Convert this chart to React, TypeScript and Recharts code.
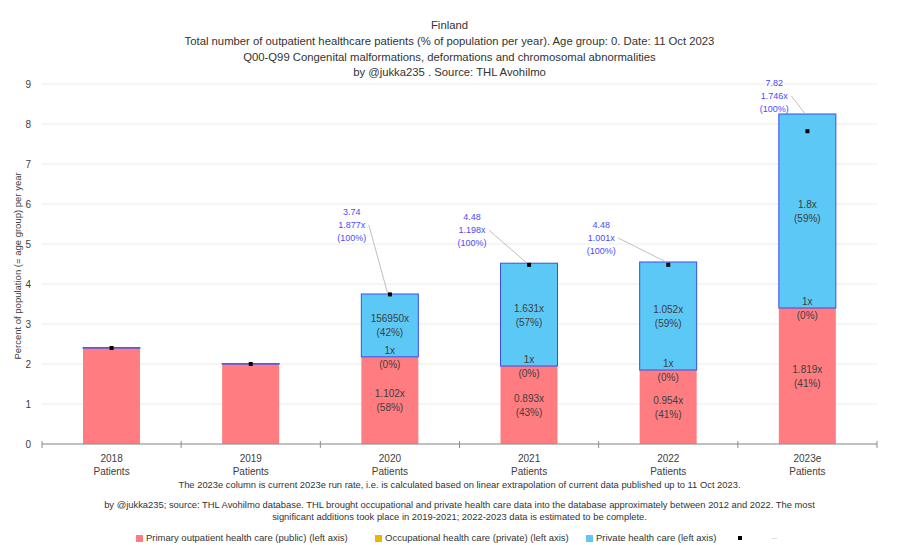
import React from "react";
import { ComposedChart, Bar, Line, XAxis, YAxis, CartesianGrid } from "recharts";

const categories = ["2018", "2019", "2020", "2021", "2022", "2023e"];
const publicCare = [2.4, 2.0, 2.18, 1.95, 1.85, 3.4];
const occupationalCare = [0, 0, 0, 0, 0, 0];
const privateCare = [0.01, 0.01, 1.57, 2.57, 2.7, 4.85];
const totals = [2.4, 2.0, 3.74, 4.48, 4.48, 7.82];

const publicRatio = ["", "", "1.102x", "0.893x", "0.954x", "1.819x"];
const publicShare = ["", "", "(58%)", "(43%)", "(41%)", "(41%)"];
const occRatio = ["", "", "1x", "1x", "1x", "1x"];
const occShare = ["", "", "(0%)", "(0%)", "(0%)", "(0%)"];
const privateRatio = ["", "", "156950x", "1.631x", "1.052x", "1.8x"];
const privateShare = ["", "", "(42%)", "(57%)", "(59%)", "(59%)"];
const totalLabel = ["", "", "3.74", "4.48", "4.48", "7.82"];
const totalRatio = ["", "", "1.877x", "1.198x", "1.001x", "1.746x"];
const yTicks = [0, 1, 2, 3, 4, 5, 6, 7, 8, 9];

// callout text offset from bar top centre (dx, dy of first line)
const calloutOffset: Record<string, [number, number]> = {
  "2020": [-38, -82],
  "2021": [-57, -46],
  "2022": [-67, -37],
  "2023e": [-33, -31],
};

const FONT = "'Liberation Sans', Arial, sans-serif";
const TEXT = "#404040";

const rows = categories.map((c, i) => ({
  name: c,
  publicCare: publicCare[i],
  occupationalCare: occupationalCare[i],
  privateCare: privateCare[i],
  total: totals[i],
  publicRatio: publicRatio[i],
  publicShare: publicShare[i],
  occRatio: occRatio[i],
  occShare: occShare[i],
  privateRatio: privateRatio[i],
  privateShare: privateShare[i],
  totalLabel: totalLabel[i],
  totalRatio: totalRatio[i],
}));

function PublicShape(props: any) {
  const { x, y, width, height, payload } = props;
  const cx = x + width / 2;
  const cy = y + height / 2;
  return (
    <g>
      <rect x={x} y={y} width={width} height={height} fill="#ff7c80" />
      {payload.publicRatio && (
        <text x={cx} y={cy} textAnchor="middle" fontSize={10} fill={TEXT} fontFamily={FONT}>
          <tspan x={cx} dy={-3}>{payload.publicRatio}</tspan>
          <tspan x={cx} dy={14}>{payload.publicShare}</tspan>
        </text>
      )}
    </g>
  );
}

function PrivateShape(props: any) {
  const { x, y, width, height, payload } = props;
  const cx = x + width / 2;
  const cy = y + height / 2;
  const bottom = y + height;
  const off = calloutOffset[payload.name];
  return (
    <g>
      <rect x={x} y={y} width={width} height={Math.max(height, 0.5)} fill="#5bc8f5" stroke="#3b4cf0" strokeWidth={1} />
      {payload.privateRatio && (
        <text x={cx} y={cy} textAnchor="middle" fontSize={10} fill={TEXT} fontFamily={FONT}>
          <tspan x={cx} dy={-3}>{payload.privateRatio}</tspan>
          <tspan x={cx} dy={14}>{payload.privateShare}</tspan>
        </text>
      )}
      {payload.occRatio && (
        <text x={cx} y={bottom} textAnchor="middle" fontSize={10} fill={TEXT} fontFamily={FONT}>
          <tspan x={cx} dy={-3}>{payload.occRatio}</tspan>
          <tspan x={cx} dy={14}>{payload.occShare}</tspan>
        </text>
      )}
      {off && (
        <g>
          <line x1={cx + off[0] + 17} y1={y + off[1] + 13} x2={cx - 2} y2={y} stroke="#b0b0b0" strokeWidth={0.8} />
          <text x={cx + off[0]} y={y + off[1]} textAnchor="middle" fontSize={9} fill="#4a4aff" fontFamily={FONT}>
            <tspan x={cx + off[0]} dy={3}>{payload.totalLabel}</tspan>
            <tspan x={cx + off[0]} dy={13}>{payload.totalRatio}</tspan>
            <tspan x={cx + off[0]} dy={13}>(100%)</tspan>
          </text>
        </g>
      )}
    </g>
  );
}

function TotalDot(props: any) {
  const { cx, cy, index } = props;
  return <rect key={index} x={cx - 2} y={cy - 2} width={4} height={4} fill="#000" />;
}

function CategoryTick(props: any) {
  const { x, y, payload, index } = props;
  const half = payload.offset ?? 69.6;
  const axisY = y - 8;
  return (
    <g>
      <line x1={x - half} y1={axisY - 3} x2={x - half} y2={axisY + 4} stroke="#8c8c8c" />
      {index === categories.length - 1 && (
        <line x1={x + half} y1={axisY - 3} x2={x + half} y2={axisY + 4} stroke="#8c8c8c" />
      )}
      <text x={x} y={y + 10} textAnchor="middle" fontSize={10} fill={TEXT} fontFamily={FONT}>
        {payload.value}
      </text>
      <text x={x} y={y + 23} textAnchor="middle" fontSize={10} fill={TEXT} fontFamily={FONT}>
        Patients
      </text>
    </g>
  );
}

const line = (top: number, size: number, text: string, extra: any = {}) => (
  <div
    style={{
      position: "absolute",
      left: 0,
      width: 899,
      top,
      textAlign: "center",
      fontSize: size,
      lineHeight: `${size + 2}px`,
      color: "#333",
      fontFamily: FONT,
      whiteSpace: "nowrap",
      ...extra,
    }}
  >
    {text}
  </div>
);

const legendItems = [
  { label: "Primary outpatient health care (public) (left axis)", color: "#ff7c80", x: 136 },
  { label: "Occupational health care (private) (left axis)", color: "#e6b800", x: 375 },
  { label: "Private health care (left axis)", color: "#5bc8f5", x: 586 },
];

export default function App() {
  return (
    <div style={{ position: "absolute", left: 0, top: 0, width: 899, height: 545, background: "#fff" }}>
      <ComposedChart
        width={899}
        height={545}
        data={rows}
        margin={{ top: 84, right: 22, bottom: 71, left: 12 }}
        barSize={57}
      >
        <CartesianGrid vertical={false} stroke="#ececec" />
        <XAxis
          dataKey="name"
          interval={0}
          height={30}
          tickLine={false}
          axisLine={{ stroke: "#8c8c8c" }}
          tick={<CategoryTick />}
        />
        <YAxis
          width={30}
          domain={[0, 9]}
          ticks={yTicks}
          axisLine={false}
          tickLine={false}
          tickMargin={5}
          tick={{ fontSize: 10, fill: TEXT, fontFamily: FONT }}
        />
        <Bar dataKey="publicCare" stackId="a" shape={<PublicShape />} isAnimationActive={false} />
        <Bar dataKey="occupationalCare" stackId="a" fill="#e6b800" isAnimationActive={false} />
        <Bar dataKey="privateCare" stackId="a" shape={<PrivateShape />} isAnimationActive={false} />
        <Line dataKey="total" stroke="none" dot={<TotalDot />} activeDot={false} isAnimationActive={false} />
      </ComposedChart>

      {line(19, 11.3, "Finland")}
      {line(35, 11.3, "Total number of outpatient healthcare patients (% of population per year). Age group: 0. Date: 11 Oct 2023")}
      {line(51, 11.3, "Q00-Q99 Congenital malformations, deformations and chromosomal abnormalities")}
      {line(66, 11.3, "by @jukka235 . Source: THL Avohilmo")}

      <div
        style={{
          position: "absolute",
          left: 18 - 100,
          top: 266 - 6,
          width: 200,
          textAlign: "center",
          transform: "rotate(-90deg)",
          fontSize: 9.5,
          lineHeight: "12px",
          color: TEXT,
          fontFamily: FONT,
          whiteSpace: "nowrap",
        }}
      >
        Percent of population (= age group) per year
      </div>

      {line(479, 9.4, "The 2023e column is current 2023e run rate, i.e. is calculated based on linear extrapolation of current data published up to 11 Oct 2023.", { left: 10 })}
      {line(499, 9.4, "by @jukka235; source: THL Avohilmo database. THL brought occupational and private health care data into the database approximately between 2012 and 2022. The most", { left: 10 })}
      {line(511, 9.4, "significant additions took place in 2019-2021; 2022-2023 data is estimated to be complete.", { left: 10 })}

      {legendItems.map((it) => (
        <div
          key={it.label}
          style={{
            position: "absolute",
            left: it.x,
            top: 532,
            fontSize: 9.5,
            lineHeight: "12px",
            color: "#333",
            fontFamily: FONT,
            whiteSpace: "nowrap",
            display: "flex",
            alignItems: "center",
          }}
        >
          <span style={{ display: "inline-block", width: 7, height: 7, background: it.color, marginRight: 3 }} />
          {it.label}
        </div>
      ))}
      <div style={{ position: "absolute", left: 738, top: 536, width: 4, height: 4, background: "#000" }} />
      <div style={{ position: "absolute", left: 772, top: 538, width: 5, height: 1, background: "#dddddd" }} />
    </div>
  );
}
